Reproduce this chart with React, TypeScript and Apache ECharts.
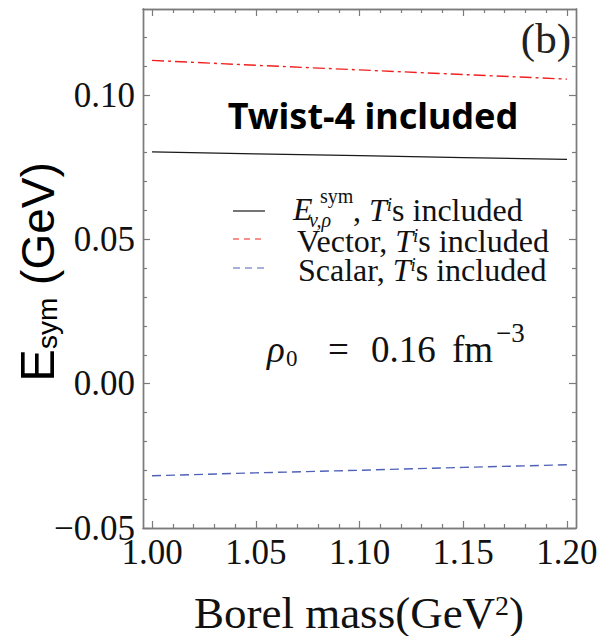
import React, { useEffect, useRef } from "react";
import * as echarts from "echarts";

// ---- data ----
const borelMass = [1.0, 1.05, 1.1, 1.15, 1.2];
const esymTotal = [0.0803, 0.0796, 0.079, 0.0783, 0.0777];
const vectorPart = [0.112, 0.1103, 0.1087, 0.1071, 0.1055];
const scalarPart = [-0.0319, -0.0309, -0.03, -0.029, -0.0281];

const xMajorTicks = [1.0, 1.05, 1.1, 1.15, 1.2];
const xMinorTicks = [
  1.01, 1.02, 1.03, 1.04, 1.06, 1.07, 1.08, 1.09, 1.11, 1.12, 1.13, 1.14,
  1.16, 1.17, 1.18, 1.19,
];
const yMajorTicks = [-0.05, 0, 0.05, 0.1];
const yMinorTicks = [
  -0.04, -0.03, -0.02, -0.01, 0.01, 0.02, 0.03, 0.04, 0.06, 0.07, 0.08, 0.09,
  0.11, 0.12,
];
const xRange = [0.99566, 1.20434];
const yRange = [-0.05, 0.1298];

const FRAME = "#7b7b7b";
const SERIF = "'Liberation Serif', 'Times New Roman', serif";
const SANS = "'Liberation Sans', Arial, sans-serif";

function xAxisDef(position: "top" | "bottom", ticks: number[], len: number, labels: boolean) {
  return {
    type: "value",
    position,
    min: xRange[0],
    max: xRange[1],
    splitLine: { show: false },
    axisLine: { show: true, onZero: false, lineStyle: { color: FRAME, width: 1.4 } },
    axisTick: {
      show: true,
      inside: true,
      length: len,
      customValues: ticks,
      lineStyle: { color: FRAME, width: 1.2 },
    },
    axisLabel: labels
      ? {
          show: true,
          customValues: ticks,
          margin: 7,
          color: "#111",
          fontFamily: SERIF,
          fontSize: 35,
          lineHeight: 35,
          formatter: (v: number) => v.toFixed(2),
        }
      : { show: false },
  };
}

function yAxisDef(position: "left" | "right", ticks: number[], len: number, labels: boolean) {
  return {
    type: "value",
    position,
    min: yRange[0],
    max: yRange[1],
    splitLine: { show: false },
    axisLine: { show: true, onZero: false, lineStyle: { color: FRAME, width: 1.4 } },
    axisTick: {
      show: true,
      inside: true,
      length: len,
      customValues: ticks,
      lineStyle: { color: FRAME, width: 1.2 },
    },
    axisLabel: labels
      ? {
          show: true,
          customValues: ticks,
          margin: 8,
          color: "#111",
          fontFamily: SERIF,
          fontSize: 35,
          formatter: (v: number) => (v < 0 ? "\u2212" : "") + Math.abs(v).toFixed(2),
        }
      : { show: false },
  };
}

const legendRich = {
  n: { fontFamily: SERIF, fontSize: 32, lineHeight: 31, verticalAlign: "bottom" },
  it: { fontFamily: SERIF, fontSize: 32, fontStyle: "italic", lineHeight: 31, verticalAlign: "bottom" },
  sup: { fontFamily: SERIF, fontSize: 19, fontStyle: "italic", lineHeight: 19, verticalAlign: "top" },
};

export default function App() {
  const ref = useRef<HTMLDivElement>(null);
  useEffect(() => {
    if (!ref.current) return;
    const chart = echarts.init(ref.current, undefined, { renderer: "svg" });
    const pairs = (ys: number[]) => borelMass.map((x, i) => [x, ys[i]]);
    chart.setOption({
      animation: false,
      backgroundColor: "#fff",
      grid: { left: 143, top: 9, right: 25, bottom: 108 },
      xAxis: [
        xAxisDef("bottom", xMajorTicks, 7, true),
        xAxisDef("bottom", xMinorTicks, 4, false),
        xAxisDef("top", xMajorTicks, 7, false),
        xAxisDef("top", xMinorTicks, 4, false),
      ],
      yAxis: [
        yAxisDef("left", yMajorTicks, 7, true),
        yAxisDef("left", yMinorTicks, 4, false),
        yAxisDef("right", yMajorTicks, 7, false),
        yAxisDef("right", yMinorTicks, 4, false),
      ],
      series: [
        {
          type: "line",
          data: pairs(esymTotal),
          symbol: "none",
          lineStyle: { color: "#1a1a1a", width: 1.3, type: "solid" },
        },
        {
          type: "line",
          data: pairs(vectorPart),
          symbol: "none",
          lineStyle: { color: "#f02020", width: 1.4, type: [12, 4, 3, 4] },
        },
        {
          type: "line",
          data: pairs(scalarPart),
          symbol: "none",
          lineStyle: { color: "#4f62b8", width: 1.4, type: [9, 5] },
        },
      ],
      graphic: [
        // y axis title
        {
          type: "text",
          x: 37,
          y: 272,
          rotation: Math.PI / 2,
          style: {
            text: "{e|E}{s|sym}{g| (GeV)}",
            align: "center",
            verticalAlign: "middle",
            fill: "#000",
            rich: {
              e: { fontFamily: SANS, fontSize: 49, lineHeight: 48, verticalAlign: "bottom" },
              s: { fontFamily: SANS, fontSize: 28, lineHeight: 40, verticalAlign: "bottom" },
              g: { fontFamily: SANS, fontSize: 46, lineHeight: 48, verticalAlign: "bottom" },
            },
          },
        },
        // x axis title
        {
          type: "text",
          x: 359,
          y: 613,
          style: {
            text: "{a|Borel mass(GeV}{b|2}{a|)}",
            align: "center",
            verticalAlign: "middle",
            fill: "#111",
            rich: {
              a: { fontFamily: SERIF, fontSize: 45, lineHeight: 44, verticalAlign: "bottom" },
              b: { fontFamily: SERIF, fontSize: 28, lineHeight: 28, verticalAlign: "top" },
            },
          },
        },
        // panel label
        {
          type: "text",
          x: 571,
          y: 38,
          style: { text: "(b)", font: `43px ${SERIF}`, align: "right", verticalAlign: "middle", fill: "#222" },
        },
        // Twist-4 annotation
        {
          type: "text",
          x: 373,
          y: 115,
          style: {
            text: "Twist-4 included",
            fontFamily: "'Noto Sans', sans-serif",
            fontWeight: "bold",
            fontSize: 36,
            align: "center",
            verticalAlign: "middle",
            fill: "#000",
          },
        },
        // legend samples
        { type: "line", shape: { x1: 233, y1: 211, x2: 265, y2: 211 }, style: { stroke: "#1a1a1a", lineWidth: 1.2 } },
        { type: "line", shape: { x1: 233, y1: 239, x2: 265, y2: 239 }, style: { stroke: "#f02020", lineWidth: 1.2, lineDash: [6, 5] } },
        { type: "line", shape: { x1: 233, y1: 268, x2: 265, y2: 268 }, style: { stroke: "#4f62b8", lineWidth: 1.2, lineDash: [7, 5] } },
        // legend row 1
        {
          type: "text",
          x: 293,
          y: 209,
          style: { text: "E", font: `italic 32px ${SERIF}`, align: "left", verticalAlign: "middle", fill: "#111" },
        },
        {
          type: "text",
          x: 320,
          y: 196,
          style: { text: "sym", font: `20px ${SERIF}`, align: "left", verticalAlign: "middle", fill: "#111" },
        },
        {
          type: "text",
          x: 309,
          y: 220,
          style: { text: "v,\u03c1", font: `italic 20px ${SERIF}`, align: "left", verticalAlign: "middle", fill: "#111" },
        },
        {
          type: "text",
          x: 353,
          y: 210,
          style: { text: "{n|, }{it|T}{sup|i}{n|s included}", align: "left", verticalAlign: "middle", fill: "#111", rich: legendRich },
        },
        // legend row 2
        {
          type: "text",
          x: 297,
          y: 241,
          style: { text: "{n|Vector, }{it|T}{sup|i}{n|s included}", align: "left", verticalAlign: "middle", fill: "#111", rich: legendRich },
        },
        // legend row 3
        {
          type: "text",
          x: 298,
          y: 270,
          style: { text: "{n|Scalar, }{it|T}{sup|i}{n|s included}", align: "left", verticalAlign: "middle", fill: "#111", rich: legendRich },
        },
        // rho_0 = 0.16 fm^-3
        { type: "text", x: 267, y: 349, style: { text: "\u03c1", font: `italic 37px ${SERIF}`, align: "left", verticalAlign: "middle", fill: "#111" } },
        { type: "text", x: 286, y: 358, style: { text: "0", font: `23px ${SERIF}`, align: "left", verticalAlign: "middle", fill: "#111" } },
        { type: "text", x: 328, y: 349, style: { text: "=", font: `37px ${SERIF}`, align: "left", verticalAlign: "middle", fill: "#111" } },
        { type: "text", x: 371, y: 349, style: { text: "0.16", font: `37px ${SERIF}`, align: "left", verticalAlign: "middle", fill: "#111" } },
        { type: "text", x: 452, y: 349, style: { text: "fm", font: `37px ${SERIF}`, align: "left", verticalAlign: "middle", fill: "#111" } },
        { type: "text", x: 496, y: 333, style: { text: "\u22123", font: `27px ${SERIF}`, align: "left", verticalAlign: "middle", fill: "#111" } },
      ],
    });
    return () => chart.dispose();
  }, []);
  return (
    <div
      ref={ref}
      style={{ position: "fixed", left: 0, top: 0, width: 601, height: 636, background: "#fff" }}
    />
  );
}
